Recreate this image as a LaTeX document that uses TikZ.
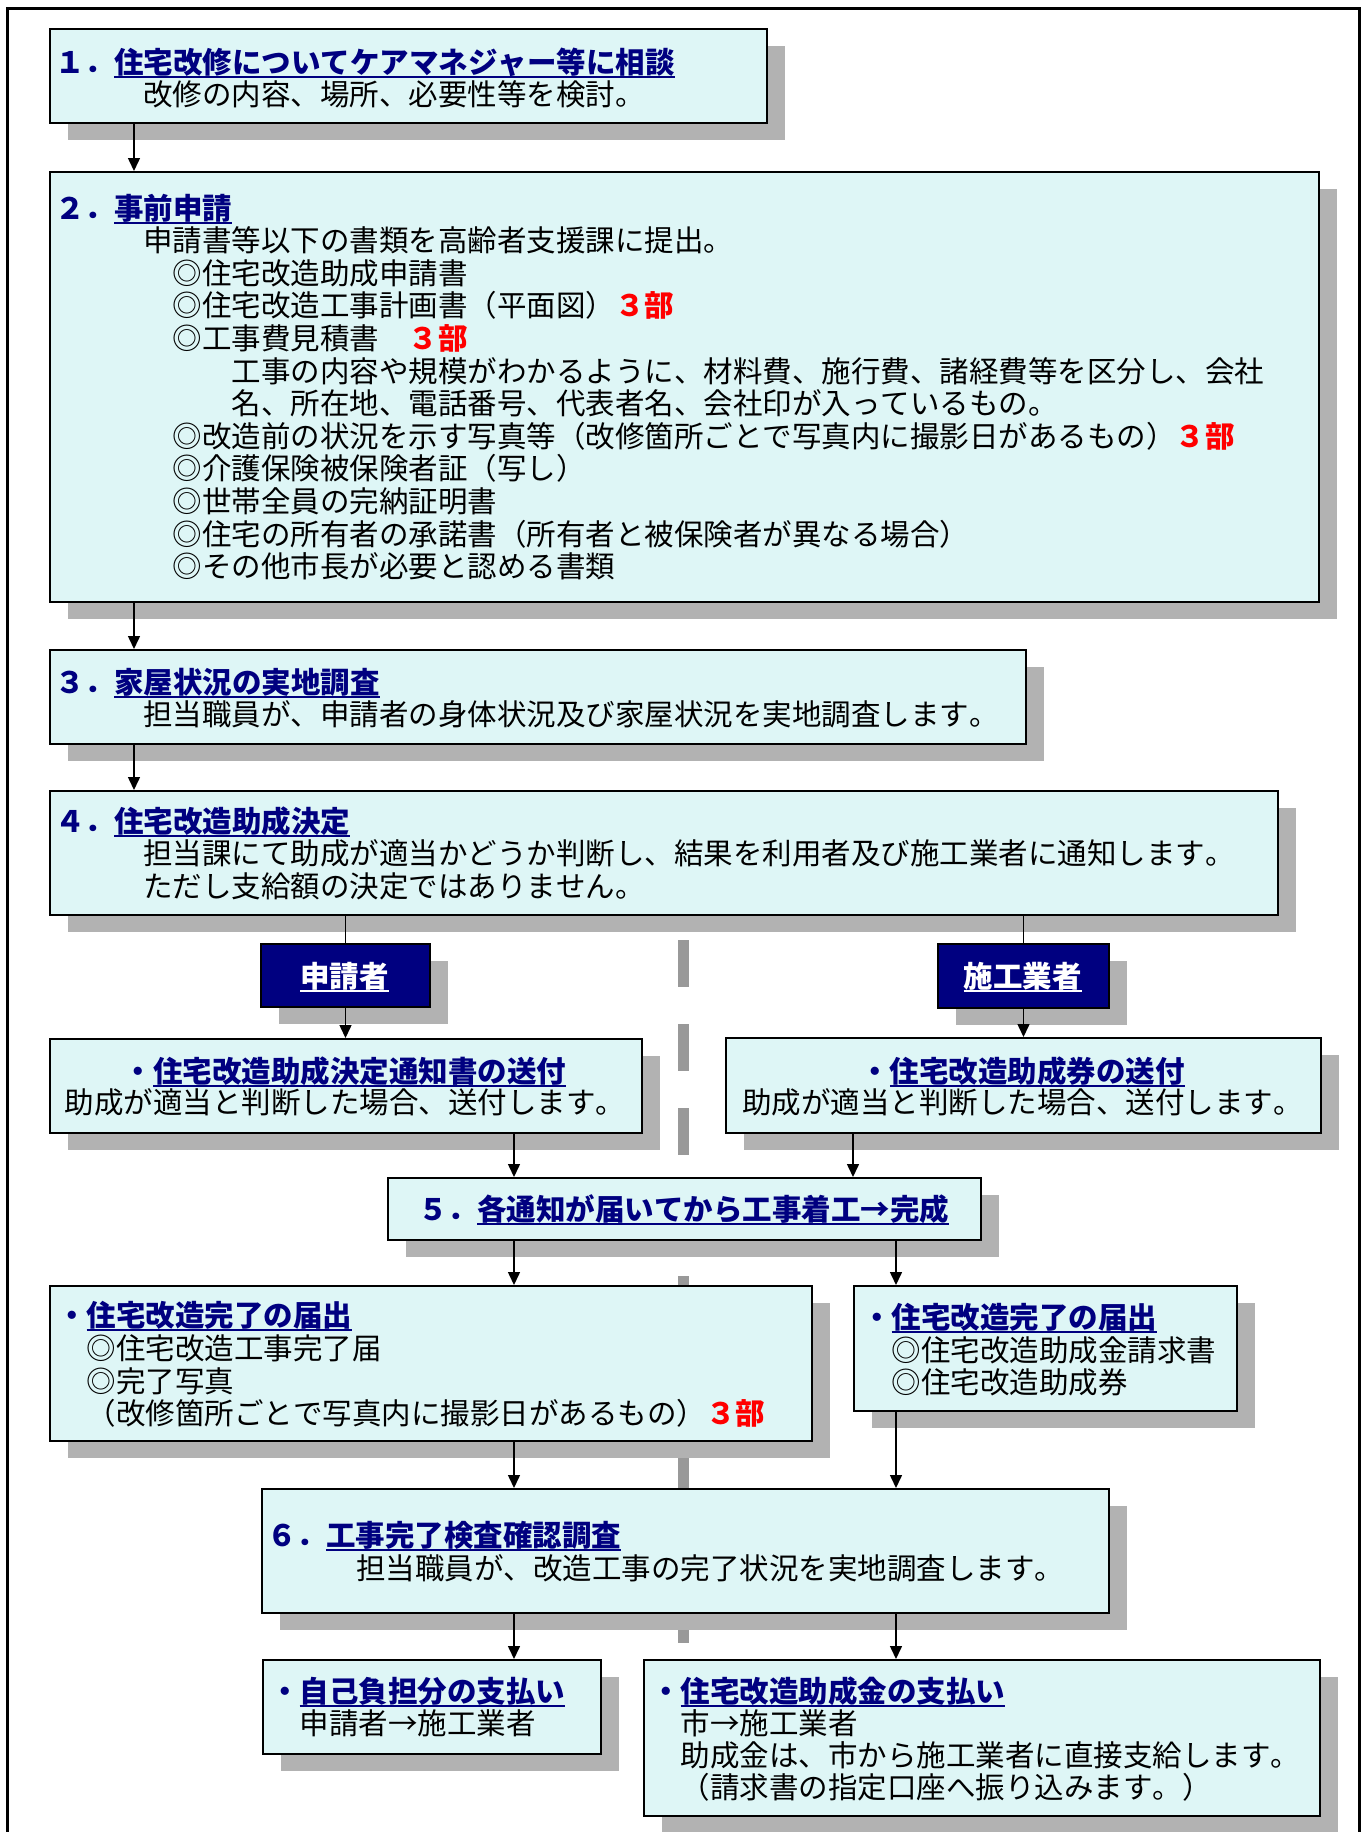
\documentclass[tikz,border=0pt]{standalone}
\usepackage{fontspec}
\setmainfont[Kerning=Off]{Noto Sans CJK JP}
\usetikzlibrary{arrows.meta,shadows}
\definecolor{navyc}{HTML}{000080}
\definecolor{boxfill}{RGB}{222,246,246}
\definecolor{shadowc}{RGB}{178,178,178}
\definecolor{dividerc}{RGB}{153,153,153}
\definecolor{redc}{HTML}{FF0000}
\newcommand\ulwrap[1]{\setbox0\hbox{#1}\rlap{\rule[-5pt]{\wd0}{2pt}}\box0}
\newcommand\ttlnum[2]{\textcolor{navyc}{\bfseries #1\ulwrap{#2}}}
\newcommand\redcount[1]{\textcolor{redc}{\bfseries #1}}
\newcommand\flowbox[6]{\node[#2, anchor=north west, minimum width={(#5-#3)*1pt}, minimum height={(#6-#4)*1pt}] (#1) at (#3,#4) {};}
\tikzset{
  boxshadow/.style={drop shadow={shadow xshift=18pt, shadow yshift=-17pt, fill=shadowc, opacity=1}},
  box/.style={draw=black, line width=2pt, fill=boxfill, inner sep=0pt, boxshadow},
  namebox/.style={draw=black, line width=2pt, fill=navyc, inner sep=0pt, boxshadow},
  txt/.style={inner sep=0pt, anchor=base west, font=\fontsize{29.5pt}{32.6pt}\selectfont},
  ctxt/.style={txt, anchor=base},
  conn/.style={line width=1.5pt, draw=black},
  arr/.style={conn, -{Triangle[length=13pt,width=12pt]}},
  divider/.style={draw=dividerc, line width=11pt, dash pattern=on 47pt off 37pt}
}
\begin{document}
\begin{tikzpicture}[x=1pt,y=-1pt]
\useasboundingbox (0,0) rectangle (1364,1832);
% divider
\draw[divider] (683.5,940) -- (683.5,1643);
% outer frame
\draw[line width=3pt] (7,1850) -- (7,8) -- (1359,8) -- (1359,1850);
% boxes
\flowbox{b1}{box}{49}{28}{766}{122}
\flowbox{b2}{box}{49}{171}{1318}{601}
\flowbox{b3}{box}{49}{649}{1025}{743}
\flowbox{b4}{box}{49}{790}{1277}{914}
\flowbox{appl}{namebox}{260}{943}{429}{1006}
\flowbox{contr}{namebox}{937}{943}{1108}{1007}
\flowbox{nl}{box}{49}{1038}{641}{1132}
\flowbox{nr}{box}{725}{1037}{1320}{1132}
\flowbox{b5}{box}{387}{1177}{980}{1239}
\flowbox{cl}{box}{49}{1285}{811}{1440}
\flowbox{cr}{box}{853}{1285}{1236}{1410}
\flowbox{b6}{box}{261}{1488}{1108}{1612}
\flowbox{pl}{box}{262}{1659}{600}{1753}
\flowbox{pr}{box}{643}{1659}{1319}{1815}
% texts box 1
\node[txt] (t1a) at (55,73) {\ttlnum{１．}{住宅改修についてケアマネジャー等に相談}};
\node[txt] (t1b) at (143,105) {改修の内容、場所、必要性等を検討。};
% box 2
\node[txt] (t2a) at (55,219) {\ttlnum{２．}{事前申請}};
\node[txt] (t2b) at (143,251.6) {申請書等以下の書類を高齢者支援課に提出。};
\node[txt] (t2c) at (172.5,284.2) {◎住宅改造助成申請書};
\node[txt] (t2d) at (172.5,316.8) {◎住宅改造工事計画書（平面図）\redcount{３部}};
\node[txt] (t2e) at (172.5,349.4) {◎工事費見積書　\redcount{３部}};
\node[txt] (t2f) at (231.5,382) {工事の内容や規模がわかるように、材料費、施行費、諸経費等を区分し、会社};
\node[txt] (t2g) at (231.5,414.6) {名、所在地、電話番号、代表者名、会社印が入っているもの。};
\node[txt] (t2h) at (172.5,447.2) {◎改造前の状況を示す写真等（改修箇所ごとで写真内に撮影日があるもの）\redcount{３部}};
\node[txt] (t2i) at (172.5,479.8) {◎介護保険被保険者証（写し）};
\node[txt] (t2j) at (172.5,512.4) {◎世帯全員の完納証明書};
\node[txt] (t2k) at (172.5,545) {◎住宅の所有者の承諾書（所有者と被保険者が異なる場合）};
\node[txt] (t2l) at (172.5,577.6) {◎その他市長が必要と認める書類};
% box 3
\node[txt] (t3a) at (55,693) {\ttlnum{３．}{家屋状況の実地調査}};
\node[txt] (t3b) at (143,725) {担当職員が、申請者の身体状況及び家屋状況を実地調査します。};
% box 4
\node[txt] (t4a) at (55,832) {\ttlnum{４．}{住宅改造助成決定}};
\node[txt] (t4b) at (143,864) {担当課にて助成が適当かどうか判断し、結果を利用者及び施工業者に通知します。};
\node[txt] (t4c) at (143,897) {ただし支給額の決定ではありません。};
% name boxes
\node[ctxt, text=white, font=\fontsize{29.5pt}{32.6pt}\selectfont\bfseries] (tappl) at (344.5,987) {\ulwrap{申請者}};
\node[ctxt, text=white, font=\fontsize{29.5pt}{32.6pt}\selectfont\bfseries] (tcontr) at (1022.5,987) {\ulwrap{施工業者}};
% notices
\node[ctxt] (tnla) at (345,1082) {\ttlnum{・}{住宅改造助成決定通知書の送付}};
\node[ctxt] (tnlb) at (345,1113) {助成が適当と判断した場合、送付します。};
\node[ctxt] (tnra) at (1022.5,1082) {\ttlnum{・}{住宅改造助成券の送付}};
\node[ctxt] (tnrb) at (1022.5,1113) {助成が適当と判断した場合、送付します。};
% box 5
\node[ctxt] (t5a) at (683.5,1220) {\ttlnum{５．}{各通知が届いてから工事着工→完成}};
% completion boxes
\node[txt] (tcla) at (57,1326) {\ttlnum{・}{住宅改造完了の届出}};
\node[txt] (tclb) at (86.5,1359) {◎住宅改造工事完了届};
\node[txt] (tclc) at (86.5,1392) {◎完了写真};
\node[txt] (tcld) at (86.5,1424) {（改修箇所ごとで写真内に撮影日があるもの）\redcount{３部}};
\node[txt] (tcra) at (862,1328) {\ttlnum{・}{住宅改造完了の届出}};
\node[txt] (tcrb) at (891.5,1361) {◎住宅改造助成金請求書};
\node[txt] (tcrc) at (891.5,1393) {◎住宅改造助成券};
% box 6
\node[txt] (t6a) at (267,1546) {\ttlnum{６．}{工事完了検査確認調査}};
\node[txt] (t6b) at (356,1579) {担当職員が、改造工事の完了状況を実地調査します。};
% payments
\node[txt] (tpla) at (270,1702) {\ttlnum{・}{自己負担分の支払い}};
\node[txt] (tplb) at (299.5,1734) {申請者→施工業者};
\node[txt] (tpra) at (651,1702) {\ttlnum{・}{住宅改造助成金の支払い}};
\node[txt] (tprb) at (680.5,1734) {市→施工業者};
\node[txt] (tprc) at (680.5,1766) {助成金は、市から施工業者に直接支給します。};
\node[txt] (tprd) at (680.5,1798) {（請求書の指定口座へ振り込みます。）};
% connectors
\draw[arr] ([xshift=85pt]b1.south west) -- ([xshift=85pt]b2.north west);
\draw[arr] ([xshift=85pt]b2.south west) -- ([xshift=85pt]b3.north west);
\draw[arr] ([xshift=85pt]b3.south west) -- ([xshift=85pt]b4.north west);
\draw[conn] (appl.north |- b4.south) -- (appl.north);
\draw[conn] (contr.north |- b4.south) -- (contr.north);
\draw[arr] (appl.south) -- (appl.south |- nl.north);
\draw[arr] (contr.south) -- (contr.south |- nr.north);
\draw[arr] ([xshift=465pt]nl.south west) -- ([xshift=127pt]b5.north west);
\draw[arr] ([xshift=128pt]nr.south west) -- ([xshift=466pt]b5.north west);
\draw[arr] ([xshift=127pt]b5.south west) -- ([xshift=465pt]cl.north west);
\draw[arr] ([xshift=509pt]b5.south west) -- ([xshift=43pt]cr.north west);
\draw[arr] ([xshift=465pt]cl.south west) -- ([xshift=253pt]b6.north west);
\draw[arr] ([xshift=43pt]cr.south west) -- ([xshift=635pt]b6.north west);
\draw[arr] ([xshift=253pt]b6.south west) -- ([xshift=252pt]pl.north west);
\draw[arr] ([xshift=635pt]b6.south west) -- ([xshift=253pt]pr.north west);
\end{tikzpicture}
\end{document}
